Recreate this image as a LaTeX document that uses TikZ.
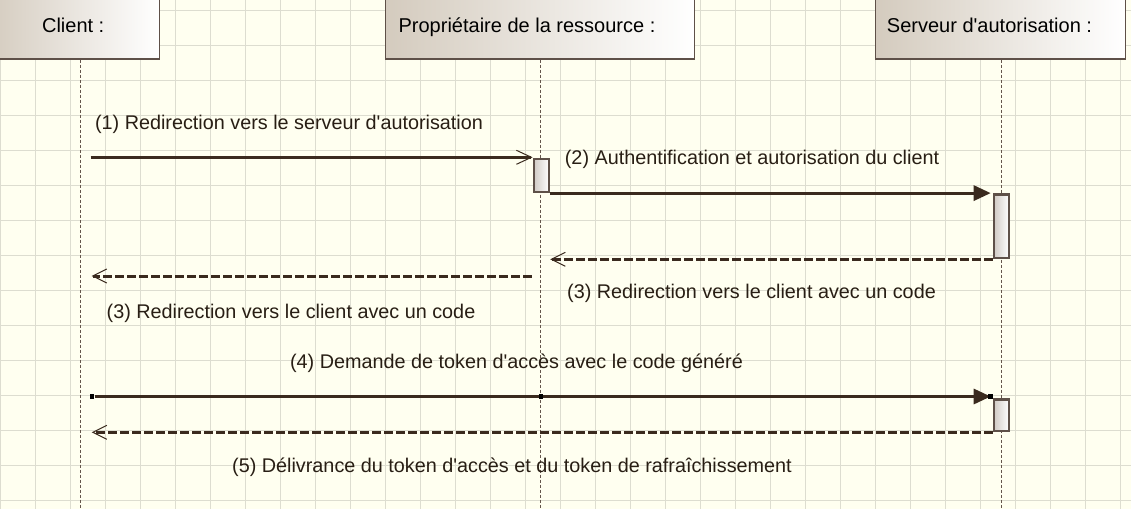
\documentclass[tikz,border=0pt]{standalone}
\usepackage{fontspec}
\setmainfont{Liberation Sans}
\usepackage{tikz}
\usetikzlibrary{arrows.meta,calc}

\definecolor{paper}{RGB}{255,255,240}
\definecolor{gridcol}{RGB}{221,221,208}
\definecolor{headleft}{RGB}{212,203,190}
\definecolor{boxline}{RGB}{94,80,72}
\definecolor{actleft}{RGB}{208,202,196}
\definecolor{msgline}{RGB}{58,42,30}
\definecolor{lifecol}{RGB}{100,85,75}
\definecolor{msgcol}{RGB}{40,30,20}

\newcommand\headfont{\fontsize{20}{24}\selectfont}
\newcommand\msgfont{\fontsize{19.8}{23}\selectfont}
\newcommand\apos{\textquotesingle}

\begin{document}
\begin{tikzpicture}[x=1pt,y=-1pt,
  gridline/.style={draw=gridcol,line width=1pt},
  lifehead/.style={draw=boxline,line width=1.2pt,left color=headleft,right color=white,minimum height=65pt,inner sep=0pt},
  headtext/.style={font=\headfont,text height=15pt,text depth=4pt,inner sep=0pt},
  activ/.style={draw=boxline,line width=2.2pt,left color=actleft,right color=white,minimum width=15.4pt,inner sep=0pt},
  lifeline/.style={draw=lifecol,line width=0.8pt,dash pattern=on 3pt off 2pt},
  msg/.style={draw=msgline,line width=3pt},
  async/.style={msg,-{Straight Barb[length=15pt,width=14pt,line width=1pt]}},
  call/.style={msg,-{Triangle[length=17pt,width=15pt]},shorten >=2pt},
  reply/.style={msg,dash pattern=on 8.5pt off 3.5pt,-{Straight Barb[length=14pt,width=14pt,line width=1pt]}},
  msgtext/.style={font=\msgfont,text=msgcol,anchor=base,inner sep=0pt},
  handle/.style={fill=black,minimum size=4.5pt,inner sep=0pt}]
  \useasboundingbox (0,0) rectangle (1131,509);
  \fill[paper] (0,0) rectangle (1131,509);

  % background grid
  \foreach \k in {0,...,32}
    \draw[gridline] ({0.7+35*\k},0) -- ({0.7+35*\k},509);
  \foreach \k in {0,...,14}
    \draw[gridline] (0,{10+35*\k}) -- (1131,{10+35*\k});

  % lifelines and their heads
  \coordinate (clientEnd) at (80,509);
  \coordinate (proprioEnd) at (540.7,509);
  \coordinate (serveurEnd) at (1001.7,509);
  \node[lifehead,minimum width=172pt,label={[headtext]center:{Client :}}] (client) at (73.2,26.5) {};
  \node[lifehead,minimum width=309pt,label={[headtext,xshift=-12.8pt]center:{Propriétaire de la ressource :}}] (proprio) at (539.8,26.5) {};
  \node[lifehead,minimum width=249.6pt,label={[headtext,xshift=-11pt]center:{Serveur d\apos autorisation :}}] (serveur) at (1000.5,26.5) {};
  \draw[lifeline] (clientEnd |- client.south) -- (clientEnd);
  \draw[lifeline] (proprioEnd |- proprio.south) -- (proprioEnd);
  \draw[lifeline] (serveurEnd |- serveur.south) -- (serveurEnd);

  % activations
  \node[activ,minimum height=32.7pt] (actP) at (541.4,175.65) {};
  \node[activ,minimum height=63.8pt] (actS1) at (1001.5,226.3) {};
  \node[activ,minimum height=31.8pt] (actS2) at (1001.5,415.3) {};

  % messages
  \coordinate (c1) at (90.7,157.3);
  \draw[async] (c1) -- (c1 -| actP.west);
  \draw[call] (actP.south east) -- (actP.south east -| actS1.west);
  \draw[reply] (actS1.south west) -- (actS1.south west -| actP.east);
  \coordinate (p3) at (531.7,276);
  \coordinate (c3) at (91.7,276);
  \draw[reply] (p3) -- (c3);
  \coordinate (c4) at (95,396.5);
  \draw[call] (c4) -- (c4 -| actS2.west);
  \coordinate (c5) at (91.7,431.5);
  \draw[reply] (actS2.south west) -- (c5 |- actS2.south west);

  \node[handle] (h1) at (92,396.5) {};
  \node[handle] (h2) at (541,396.5) {};
  \node[handle] (h3) at (990.7,396.5) {};

  % labels
  \node[msgtext] (m1) at (289,129) {(1) Redirection vers le serveur d\apos autorisation};
  \node[msgtext] (m2) at (752,164.5) {(2) Authentification et autorisation du client};
  \node[msgtext] (m3a) at (751.5,298.5) {(3) Redirection vers le client avec un code};
  \node[msgtext] (m3b) at (291,318.5) {(3) Redirection vers le client avec un code};
  \node[msgtext] (m4) at (516.5,368.3) {(4) Demande de token d\apos accès avec le code généré};
  \node[msgtext] (m5) at (512,472.3) {(5) Délivrance du token d\apos accès et du token de rafraîchissement};
\end{tikzpicture}
\end{document}
